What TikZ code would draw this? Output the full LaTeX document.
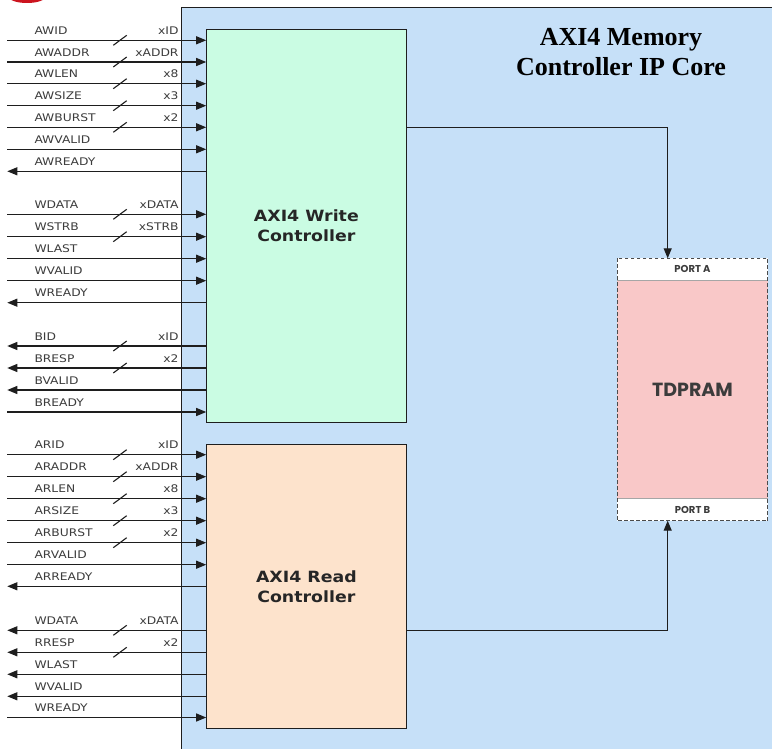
\documentclass[tikz,border=0pt]{standalone}
\usepackage{fontspec}
\usetikzlibrary{arrows.meta}
\setmainfont{Liberation Serif}
\newfontfamily\sigfont{DejaVu Sans}[FakeStretch=1.17]
\newfontfamily\blkfont{DejaVu Sans}[FakeStretch=1.12]
\newfontfamily\ramfont{Poppins}
\definecolor{bgblue}{RGB}{198,224,248}
\definecolor{mint}{RGB}{202,252,227}
\definecolor{peach}{RGB}{253,227,204}
\definecolor{rampink}{RGB}{249,200,200}
\definecolor{lineclr}{RGB}{30,30,30}
\definecolor{txtclr}{RGB}{60,60,60}
\definecolor{logored}{RGB}{204,20,30}
\tikzset{
  sig/.style={draw=lineclr, line width=1.1pt},
  tip/.style={-{Triangle[length=10pt,width=8pt]}},
  siglbl/.style={font=\sigfont\fontsize{10.5}{12}\selectfont, text=txtclr, inner sep=0pt},
  ctl/.style={draw=lineclr, line width=1pt, inner sep=0pt, align=center,
    font=\blkfont\bfseries\fontsize{15.5}{20}\selectfont, text=black!85},
  portband/.style={fill=white, inner sep=0pt, minimum width=150.4pt, minimum height=21.7pt,
    font=\ramfont\bfseries\fontsize{10}{12}\selectfont, text=txtclr},
}
% #1 controller, #2 y, #3 name
\newcommand\sigin[3]{%
  \coordinate (#1-#3) at (7.3,#2);
  \draw[sig,tip] (#1-#3) -- (#1-#3 -| #1.west);
  \node[siglbl,anchor=base west] (#1-#3-t) at (34.3,#2-5.8) {#3};}
\newcommand\sigout[3]{%
  \coordinate (#1-#3) at (7.3,#2);
  \draw[sig,tip] (#1-#3 -| #1.west) -- (#1-#3);
  \node[siglbl,anchor=base west] (#1-#3-t) at (34.3,#2-5.8) {#3};}
% #1 controller, #2 y, #3 name, #4 width
\newcommand\busmark[4]{%
  \draw[sig] (113.3,#2+5) -- (126.7,#2-5);
  \node[siglbl,anchor=base east] (#1-#3-w) at (178.7,#2-5.8) {#4};}
\begin{document}
\begin{tikzpicture}[x=1pt,y=-1pt]
\useasboundingbox (0,0) rectangle (772,749);
\fill[white] (0,0) rectangle (772,749);
% logo fragment
\fill[logored] (27,-3) ellipse [x radius=18pt, y radius=6pt];
% core background
\fill[bgblue] (181.7,7.3) rectangle (772,749);
\draw[lineclr, line width=1pt] (181.7,749) -- (181.7,7.3) -- (772,7.3);
% title
\node[font=\bfseries\fontsize{26}{30}\selectfont, align=center, text=black, inner sep=0pt]
  (title) at (621,52) {AXI4 Memory\\Controller IP Core};
% controllers
\node[ctl, fill=mint, minimum width=199.3pt, minimum height=393pt] (wc) at (306.35,225.8)
  {AXI4 Write\\Controller};
\node[ctl, fill=peach, minimum width=199.3pt, minimum height=284pt] (rc) at (306.35,586.3)
  {AXI4 Read\\Controller};
% TDPRAM
\node[fill=rampink, inner sep=0pt, minimum width=150.4pt, minimum height=262.4pt,
  font=\ramfont\bfseries\fontsize{19}{22}\selectfont, text=txtclr] (tdp) at (692.5,389.5) {TDPRAM};
\node[portband, anchor=north] (pa) at (tdp.north) {PORT A};
\node[portband, anchor=south] (pb) at (tdp.south) {PORT B};
\draw[black!35, line width=0.8pt] (pa.south west) -- (pa.south east);
\draw[black!35, line width=0.8pt] (pb.north west) -- (pb.north east);
\draw[lineclr!80, line width=1pt, dash pattern=on 3.5pt off 2.5pt] (tdp.north west) rectangle (tdp.south east);
\coordinate (pain) at (667.7,258.3);
\coordinate (pbin) at (667.7,520.7);
\path (wc.east) ++(0,-98.5) coordinate (wo);
\path (rc.east) ++(0,44) coordinate (ro);
\draw[sig,tip] (wo) -| (pain);
\draw[sig,tip] (ro) -| (pbin);
% write address channel
\sigin{wc}{40.3}{AWID}\busmark{wc}{40.3}{AWID}{xID}
\sigin{wc}{62}{AWADDR}\busmark{wc}{62}{AWADDR}{xADDR}
\sigin{wc}{83.7}{AWLEN}\busmark{wc}{83.7}{AWLEN}{x8}
\sigin{wc}{105.7}{AWSIZE}\busmark{wc}{105.7}{AWSIZE}{x3}
\sigin{wc}{127.3}{AWBURST}\busmark{wc}{127.3}{AWBURST}{x2}
\sigin{wc}{149.3}{AWVALID}
\sigout{wc}{171.3}{AWREADY}
% write data channel
\sigin{wc}{214.3}{WDATA}\busmark{wc}{214.3}{WDATA}{xDATA}
\sigin{wc}{236.7}{WSTRB}\busmark{wc}{236.7}{WSTRB}{xSTRB}
\sigin{wc}{258.7}{WLAST}
\sigin{wc}{280.7}{WVALID}
\sigout{wc}{302.7}{WREADY}
% write response channel
\sigout{wc}{346}{BID}\busmark{wc}{346}{BID}{xID}
\sigout{wc}{368}{BRESP}\busmark{wc}{368}{BRESP}{x2}
\sigout{wc}{390}{BVALID}
\sigin{wc}{412}{BREADY}
% read address channel
\sigin{rc}{454.7}{ARID}\busmark{rc}{454.7}{ARID}{xID}
\sigin{rc}{476.7}{ARADDR}\busmark{rc}{476.7}{ARADDR}{xADDR}
\sigin{rc}{498.7}{ARLEN}\busmark{rc}{498.7}{ARLEN}{x8}
\sigin{rc}{520.7}{ARSIZE}\busmark{rc}{520.7}{ARSIZE}{x3}
\sigin{rc}{542.7}{ARBURST}\busmark{rc}{542.7}{ARBURST}{x2}
\sigin{rc}{564.7}{ARVALID}
\sigout{rc}{586.3}{ARREADY}
% read data channel
\sigout{rc}{630.3}{WDATA}\busmark{rc}{630.3}{WDATA}{xDATA}
\sigout{rc}{652.3}{RRESP}\busmark{rc}{652.3}{RRESP}{x2}
\sigout{rc}{674.3}{WLAST}
\sigout{rc}{696.3}{WVALID}
\sigin{rc}{717.5}{WREADY}
\end{tikzpicture}
\end{document}
